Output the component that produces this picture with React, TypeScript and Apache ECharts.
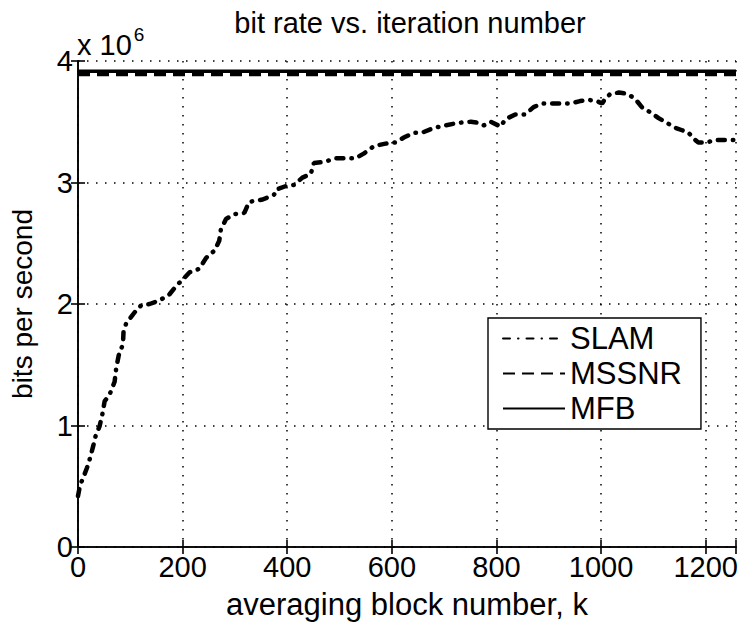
import React, { useEffect, useRef } from "react";
import * as echarts from "echarts";

const X_MAX = 1258;
const xTicks = [0, 200, 400, 600, 800, 1000, 1200];
const yTicks = [0, 1, 2, 3, 4];

const slamX = [0, 4, 10, 17, 21, 29, 34, 41, 46, 51, 60, 70, 73, 78, 86, 87, 92, 108, 121, 137, 156, 175, 188, 200, 213, 232, 245, 261, 270, 273, 283, 299, 318, 327, 353, 375, 378, 397, 413, 429, 445, 451, 471, 493, 518, 531, 547, 566, 588, 607, 623, 642, 658, 681, 703, 725, 751, 767, 776, 789, 808, 817, 836, 855, 871, 887, 910, 926, 941, 960, 976, 992, 1002, 1008, 1018, 1034, 1050, 1065, 1078, 1097, 1110, 1126, 1142, 1155, 1167, 1180, 1186, 1202, 1218, 1237, 1256];
const slamY = [0.42, 0.51, 0.57, 0.65, 0.70, 0.83, 0.92, 0.99, 1.08, 1.20, 1.25, 1.36, 1.47, 1.58, 1.67, 1.77, 1.84, 1.93, 1.99, 2.00, 2.03, 2.08, 2.15, 2.20, 2.26, 2.29, 2.38, 2.44, 2.52, 2.61, 2.70, 2.74, 2.75, 2.84, 2.86, 2.90, 2.94, 2.97, 2.98, 3.04, 3.07, 3.16, 3.17, 3.20, 3.20, 3.20, 3.24, 3.30, 3.32, 3.33, 3.37, 3.41, 3.41, 3.45, 3.47, 3.49, 3.50, 3.49, 3.47, 3.50, 3.46, 3.52, 3.56, 3.56, 3.62, 3.65, 3.65, 3.65, 3.65, 3.67, 3.68, 3.67, 3.65, 3.69, 3.73, 3.74, 3.73, 3.69, 3.62, 3.57, 3.53, 3.49, 3.45, 3.43, 3.41, 3.35, 3.33, 3.33, 3.35, 3.35, 3.35];
const mssnrX = [0, X_MAX];
const mssnrY = [3.89, 3.89];
const mfbX = [0, X_MAX];
const mfbY = [3.915, 3.915];

const FONT = "'Liberation Sans', Arial, Helvetica, sans-serif";

export default function App() {
  const ref = useRef<HTMLDivElement>(null);
  useEffect(() => {
    if (!ref.current) return;
    const chart = echarts.init(ref.current, null, { renderer: "svg" });
    const zip = (xs: number[], ys: number[]) => xs.map((x, i) => [x, ys[i]]);
    const axisLine = { show: true, lineStyle: { color: "#000", width: 1.6 } };
    const tick = { show: true, inside: true, length: 7, lineStyle: { color: "#000", width: 1.6 } };
    const grid = { show: true, lineStyle: { color: "#000", width: 1.5, type: [1.5, 7.5] } };
    chart.setOption({
      animation: false,
      backgroundColor: "#fff",
      textStyle: { fontFamily: FONT, color: "#000" },
      title: {
        text: "bit rate vs. iteration number",
        left: 405,
        textAlign: "center",
        top: 3,
        textStyle: { fontFamily: FONT, fontSize: 29, fontWeight: "normal", color: "#000" },
      },
      grid: { left: 75, top: 61, right: 7, bottom: 76, containLabel: false },
      legend: {
        orient: "vertical",
        left: 488,
        top: 318,
        backgroundColor: "#fff",
        borderColor: "#000",
        borderWidth: 1.4,
        borderRadius: 0,
        padding: [5, 19, 5, 14],
        itemWidth: 62,
        itemHeight: 14,
        itemGap: 4,
        itemStyle: { opacity: 0 },
        textStyle: { fontFamily: FONT, fontSize: 31, color: "#000" },
        data: ["SLAM", "MSSNR", "MFB"],
      },
      xAxis: [
        {
          type: "value",
          min: 0,
          max: X_MAX,
          interval: 200,
          position: "bottom",
          name: "averaging block number, k",
          nameLocation: "middle",
          nameGap: 42,
          nameTextStyle: { fontFamily: FONT, fontSize: 31, color: "#000" },
          axisLine,
          axisTick: tick,
          splitLine: grid,
          axisLabel: {
            fontFamily: FONT,
            fontSize: 29,
            color: "#000",
            margin: 5,
            formatter: (v: number) => (xTicks.includes(v) ? String(v) : ""),
          },
        },
        {
          type: "value",
          min: 0,
          max: X_MAX,
          interval: 200,
          position: "top",
          axisLine,
          axisTick: tick,
          splitLine: { show: false },
          axisLabel: { show: false },
        },
      ],
      yAxis: [
        {
          type: "value",
          min: 0,
          max: 4,
          interval: 1,
          position: "left",
          name: "bits per second",
          nameLocation: "middle",
          nameGap: 42,
          nameTextStyle: { fontFamily: FONT, fontSize: 28, color: "#000" },
          axisLine,
          axisTick: tick,
          splitLine: grid,
          axisLabel: {
            fontFamily: FONT,
            fontSize: 29,
            color: "#000",
            margin: 5,
            formatter: (v: number) => (yTicks.includes(v) ? String(v) : ""),
          },
        },
        {
          type: "value",
          min: 0,
          max: 4,
          interval: 1,
          position: "right",
          axisLine,
          axisTick: tick,
          splitLine: { show: false },
          axisLabel: { show: false },
        },
      ],
      graphic: [
        {
          type: "text",
          left: 77,
          top: 25,
          style: {
            text: "{a|x 10}{b|6}",
            rich: {
              a: { fontFamily: FONT, fontSize: 29, fill: "#000", verticalAlign: "bottom" },
              b: { fontFamily: FONT, fontSize: 19, fill: "#000", verticalAlign: "top", padding: [0, 0, 15, 2] },
            },
          },
        },
      ],
      series: [
        {
          name: "SLAM",
          type: "line",
          data: zip(slamX, slamY),
          symbol: "none",
          smooth: false,
          lineStyle: { color: "#000", width: 4.5, type: [7, 8, 0.5, 8], cap: "round" },
          itemStyle: { color: "#000" },
          z: 3,
        },
        {
          name: "MSSNR",
          type: "line",
          data: zip(mssnrX, mssnrY),
          symbol: "none",
          lineStyle: { color: "#000", width: 4, type: [12, 7] },
          itemStyle: { color: "#000" },
          z: 2,
        },
        {
          name: "MFB",
          type: "line",
          data: zip(mfbX, mfbY),
          symbol: "none",
          lineStyle: { color: "#000", width: 3.5, type: "solid" },
          itemStyle: { color: "#000" },
          z: 2,
        },
      ],
    });
    return () => chart.dispose();
  }, []);
  return (
    <div
      ref={ref}
      style={{ position: "fixed", left: 0, top: 0, width: 743, height: 625, background: "#fff" }}
    />
  );
}
